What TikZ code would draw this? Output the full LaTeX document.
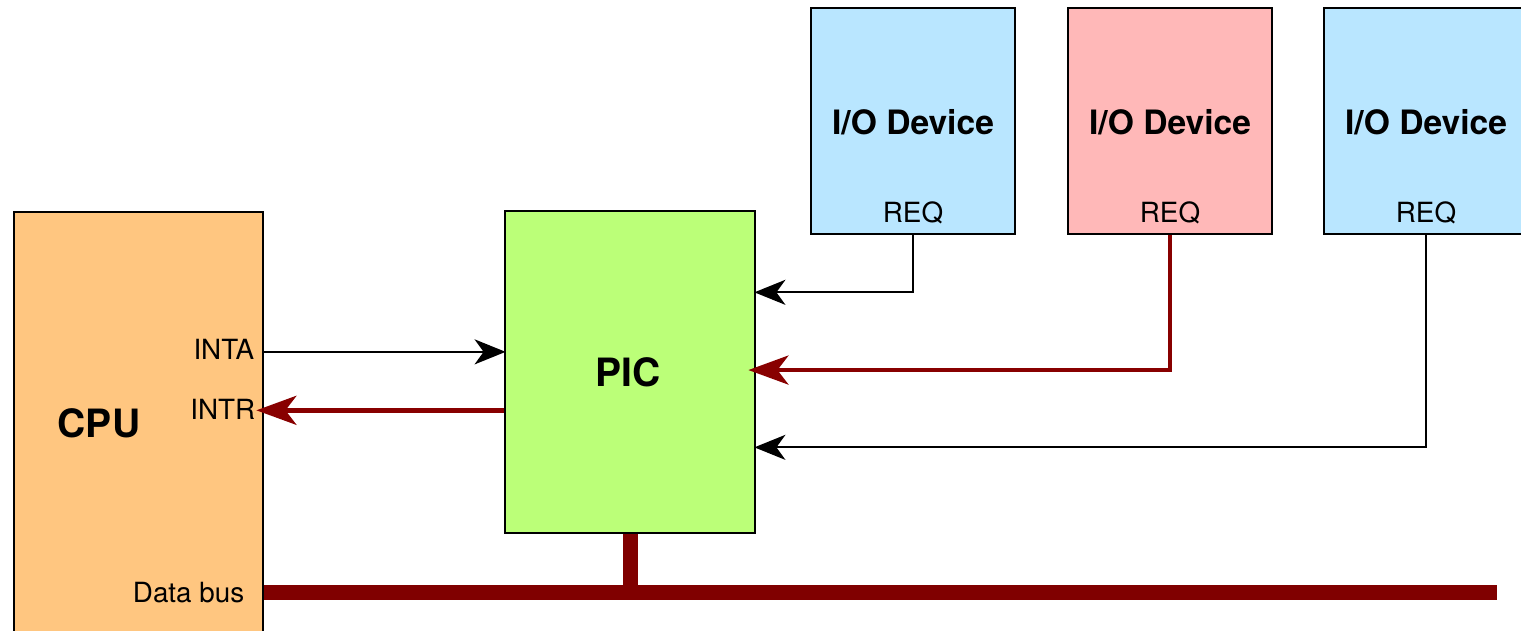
\documentclass[tikz,border=0pt]{standalone}
\usepackage{fontspec}
\setmainfont{TeX Gyre Heros}
\usetikzlibrary{arrows.meta,calc}

\definecolor{cpufill}{HTML}{FFC680}
\definecolor{picfill}{HTML}{BBFF78}
\definecolor{devblue}{HTML}{B9E6FF}
\definecolor{devpink}{HTML}{FFB8B8}
\definecolor{sigred}{HTML}{880000}
\definecolor{busred}{HTML}{800000}

\tikzset{
  block/.style={draw=black, line width=2.8pt, rectangle, inner sep=0pt},
  cpubox/.style={block, fill=cpufill, minimum width=249pt, minimum height=440pt},
  picbox/.style={block, fill=picfill, minimum width=250pt, minimum height=322pt},
  devbox/.style={block, minimum width=204pt, minimum height=226pt},
  pinlabel/.style={inner sep=0pt, font=\fontsize{27.8}{32}\selectfont},
  bigtitle/.style={inner sep=0pt, font=\fontsize{39}{44}\selectfont\bfseries},
  devtitle/.style={inner sep=0pt, font=\fontsize{33.6}{38}\selectfont\bfseries},
  sig/.style={draw=black, line width=2.2pt, shorten >=-2pt,
    -{Stealth[length=31pt, width=25pt, inset=9pt]}},
  redsig/.style={draw=sigred, line width=4.5pt,
    -{Stealth[length=40pt, width=29pt, inset=11pt]}},
  busline/.style={draw=busred, line width=15pt, line cap=butt}
}

\begin{document}
\begin{tikzpicture}[x=1pt, y=-1pt]
\useasboundingbox (0,0) rectangle (1521,631);

% processor and interrupt controller
\node[cpubox] (cpu) at (138.5,432) {};
\node[picbox] (pic) at (630,372) {};

% peripheral devices
\node[devbox, fill=devblue] (io1) at (913,121) {};
\node[devbox, fill=devpink] (io2) at (1170,121) {};
\node[devbox, fill=devblue] (io3) at (1426,121) {};

% box titles
\node[bigtitle, anchor=base] (cpulbl) at (99,437) {CPU};
\node[bigtitle, anchor=base] (piclbl) at (628,386.5) {PIC};
\foreach \d in {io1,io2,io3}{
  \node[devtitle, anchor=base] (\d t) at ($(\d.south)+(0,-101)$) {I/O Device};
  \node[pinlabel, anchor=base] (\d r) at ($(\d.south)+(0,-13)$) {REQ};
}

% pin positions on the controller
\coordinate (pinta) at ($(pic.north west)!0.438!(pic.south west)$);
\coordinate (pintr) at ($(pic.north west)!0.618!(pic.south west)$);
\coordinate (preq1) at ($(pic.north east)!0.2547!(pic.south east)$);
\coordinate (preq2) at ($(pic.north east)!0.494!(pic.south east)$);
\coordinate (preq3) at ($(pic.north east)!0.732!(pic.south east)$);
\coordinate (busend) at (1497,592.5);

% CPU pin labels
\node[pinlabel, anchor=base east] (intalbl) at ($(cpu.east |- pinta)+(-10,8)$) {INTA};
\node[pinlabel, anchor=base east] (intrlbl) at ($(cpu.east |- pintr)+(-9,9)$) {INTR};
\node[pinlabel, anchor=base east] (buslbl) at ($(cpu.east |- busend)+(-20,9.5)$) {Data bus};

% data bus
\draw[busline] (cpu.east |- busend) -- (busend);
\draw[busline] (pic.south) -- (pic.south |- busend);

% request lines
\draw[sig] (io1.south) |- (preq1);
\draw[redsig, shorten >=-8pt] (io2.south) |- (preq2);
\draw[sig] (io3.south) |- (preq3);

% interrupt handshake
\draw[sig] (cpu.east |- pinta) -- (pinta);
\draw[redsig, shorten >=-8pt] (pintr) -- (cpu.east |- pintr);
\end{tikzpicture}
\end{document}
